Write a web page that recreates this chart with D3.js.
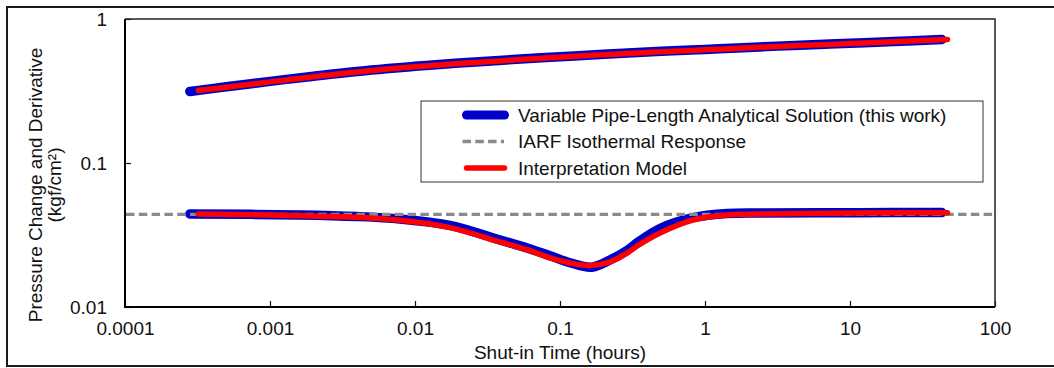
<!DOCTYPE html>
<html>
<head>
<meta charset="utf-8">
<script src="https://cdn.jsdelivr.net/npm/d3@7"></script>
<style>
  html, body { margin: 0; padding: 0; background: #fff; }
  svg { display: block; }
  text { font-family: "Liberation Sans", Arial, Helvetica, sans-serif; fill: #111; }
</style>
</head>
<body>
<svg id="chart" width="1054" height="368"></svg>
<script>
// Shut-in times (hours) and responses (kgf/cm²)
const pressureTimeAnalytical = [0.00028, 0.0005, 0.001, 0.002, 0.005, 0.01, 0.02, 0.05, 0.1, 0.2, 0.5, 1, 2, 5, 10, 20, 43];
const pressureAnalytical     = [0.314, 0.338, 0.369, 0.400, 0.442, 0.469, 0.494, 0.525, 0.547, 0.569, 0.596, 0.615, 0.635, 0.661, 0.679, 0.698, 0.720];

const pressureTimeModel = [0.00032, 0.0005, 0.001, 0.002, 0.005, 0.01, 0.02, 0.05, 0.1, 0.2, 0.5, 1, 2, 5, 10, 20, 47];
const pressureModel     = [0.319, 0.336, 0.366, 0.397, 0.439, 0.466, 0.490, 0.521, 0.543, 0.565, 0.592, 0.611, 0.631, 0.657, 0.675, 0.694, 0.721];

const derivTimeAnalytical = [0.00028, 0.0016, 0.004, 0.0079, 0.0174, 0.0386, 0.06, 0.0853, 0.117, 0.165, 0.221, 0.29, 0.35, 0.49, 0.826, 1.42, 2.39, 11.7, 43];
const derivAnalytical     = [0.0443, 0.0436, 0.0425, 0.0408, 0.0369, 0.0292, 0.0256, 0.0227, 0.0203, 0.0189, 0.0212, 0.0247, 0.0285, 0.0351, 0.0417, 0.0446, 0.0450, 0.0452, 0.0453];

const derivTimeModel = [0.00032, 0.0016, 0.004, 0.0079, 0.0174, 0.0386, 0.06, 0.0853, 0.117, 0.161, 0.221, 0.29, 0.35, 0.49, 0.826, 1.42, 2.39, 11.7, 47];
const derivModel     = [0.0442, 0.0431, 0.0420, 0.0400, 0.0356, 0.0283, 0.0249, 0.0219, 0.0202, 0.0194, 0.0206, 0.0237, 0.0270, 0.0327, 0.0402, 0.0435, 0.0442, 0.0450, 0.0452];

// Infinite-acting radial flow derivative level
const iarfLevel = 0.044;

const xTickValues = [0.0001, 0.001, 0.01, 0.1, 1, 10, 100];
const xTickLabels = ["0.0001", "0.001", "0.01", "0.1", "1", "10", "100"];
const yTickValues = [0.01, 0.1, 1];
const yTickLabels = ["0.01", "0.1", "1"];

const legendLabels = [
  "Variable Pipe-Length Analytical Solution (this work)",
  "IARF Isothermal Response",
  "Interpretation Model"
];

const svg = d3.select("#chart");
const plot = { left: 125, right: 995, top: 19, bottom: 307 };

const x = d3.scaleLog().domain([1e-4, 100]).range([plot.left, plot.right]);
const y = d3.scaleLog().domain([0.01, 1]).range([plot.bottom, plot.top]);

// outer frame (open on the right)
svg.append("path")
  .attr("d", "M1060,7H7V366H1060")
  .attr("fill", "none")
  .attr("stroke", "#1a1a1a")
  .attr("stroke-width", 2);

// minor tick positions (2..9 per decade)
const minorX = [];
for (let e = -4; e < 2; e++) for (let m = 2; m <= 9; m++) minorX.push(m * Math.pow(10, e));
const minorY = [];
for (let e = -2; e < 0; e++) for (let m = 2; m <= 9; m++) minorY.push(m * Math.pow(10, e));

const fontSize = 19;

// x axis
const gx = svg.append("g").attr("transform", `translate(0,${plot.bottom})`);
gx.call(d3.axisBottom(x).tickValues(minorX).tickSize(-5).tickFormat(""));
gx.call(d3.axisBottom(x).tickValues(xTickValues).tickSize(-6).tickPadding(15)
  .tickFormat((d, i) => xTickLabels[i]));
gx.selectAll(".domain").remove();
gx.selectAll("line").attr("stroke", "#111").attr("stroke-width", 1.2);
gx.selectAll("text").attr("font-size", fontSize).attr("font-family", null).attr("fill", "#111");

// y axis
const gy = svg.append("g").attr("transform", `translate(${plot.left},0)`);
gy.call(d3.axisLeft(y).tickValues(minorY).tickSize(-4.5).tickFormat(""));
gy.call(d3.axisLeft(y).tickValues(yTickValues).tickSize(-6).tickPadding(18)
  .tickFormat((d, i) => yTickLabels[i]));
gy.selectAll(".domain").remove();
gy.selectAll("line").attr("stroke", "#111").attr("stroke-width", 1.2);
gy.selectAll("text").attr("font-size", fontSize).attr("font-family", null).attr("fill", "#111").attr("dy", "0.36em");

// plot frame
svg.append("path")
  .attr("d", `M${plot.left},${plot.top}H${plot.right}V${plot.bottom}`)
  .attr("fill", "none").attr("stroke", "#222").attr("stroke-width", 1.5);
svg.append("path")
  .attr("d", `M${plot.left},${plot.top}V${plot.bottom}H${plot.right}`)
  .attr("fill", "none").attr("stroke", "#000").attr("stroke-width", 2);

// axis titles
svg.append("text")
  .attr("x", (plot.left + plot.right) / 2)
  .attr("y", 359)
  .attr("text-anchor", "middle")
  .attr("font-size", fontSize)
  .text("Shut-in Time (hours)");

const yTitle = svg.append("text")
  .attr("transform", "translate(41.5,185) rotate(-90)")
  .attr("text-anchor", "middle")
  .attr("font-size", fontSize);
yTitle.append("tspan").attr("x", 0).attr("y", 0).text("Pressure Change and Derivative");
yTitle.append("tspan").attr("x", 0).attr("y", 19).text("(kgf/cm²)");

// series
const line = d3.line()
  .x(d => x(d[0]))
  .y(d => y(d[1]))
  .curve(d3.curveCatmullRom.alpha(0.5));

const zip = (t, v) => t.map((d, i) => [d, v[i]]);

const blue = "#0000c8", red = "#ff0000", gray = "#8a8a8a";

const curves = svg.append("g").attr("fill", "none").attr("stroke-linecap", "round").attr("stroke-linejoin", "round");

curves.append("path").datum(zip(pressureTimeAnalytical, pressureAnalytical))
  .attr("d", line).attr("stroke", blue).attr("stroke-width", 9.5);
curves.append("path").datum(zip(derivTimeAnalytical, derivAnalytical))
  .attr("d", line).attr("stroke", blue).attr("stroke-width", 9.5);

svg.append("line")
  .attr("x1", plot.left + 1).attr("x2", plot.right)
  .attr("y1", y(iarfLevel)).attr("y2", y(iarfLevel))
  .attr("stroke", gray).attr("stroke-width", 3.3)
  .attr("stroke-dasharray", "8.5,4.3");

const curvesTop = svg.append("g").attr("fill", "none").attr("stroke-linecap", "round").attr("stroke-linejoin", "round");
curvesTop.append("path").datum(zip(pressureTimeModel, pressureModel))
  .attr("d", line).attr("stroke", red).attr("stroke-width", 5.5);
curvesTop.append("path").datum(zip(derivTimeModel, derivModel))
  .attr("d", line).attr("stroke", red).attr("stroke-width", 5.5);

// legend
const legend = svg.append("g");
legend.append("rect")
  .attr("x", 421).attr("y", 101).attr("width", 562).attr("height", 81)
  .attr("fill", "#fff").attr("stroke", "#333").attr("stroke-width", 1);

const rowY = [115, 141.5, 168];
const styles = [
  { stroke: blue, width: 9, dash: null, cap: "round" },
  { stroke: gray, width: 3.3, dash: "8.5,4.3", cap: "butt" },
  { stroke: red, width: 5.5, dash: null, cap: "round" }
];
legendLabels.forEach((lab, i) => {
  const s = styles[i];
  legend.append("line")
    .attr("x1", s.cap === "round" ? 466.5 : 462.5)
    .attr("x2", s.cap === "round" ? 504.5 : 504)
    .attr("y1", rowY[i]).attr("y2", rowY[i])
    .attr("stroke", s.stroke).attr("stroke-width", s.width)
    .attr("stroke-linecap", s.cap)
    .attr("stroke-dasharray", s.dash);
  legend.append("text")
    .attr("x", 518).attr("y", rowY[i]).attr("dy", "0.36em")
    .attr("font-size", fontSize)
    .text(lab);
});
</script>
</body>
</html>
